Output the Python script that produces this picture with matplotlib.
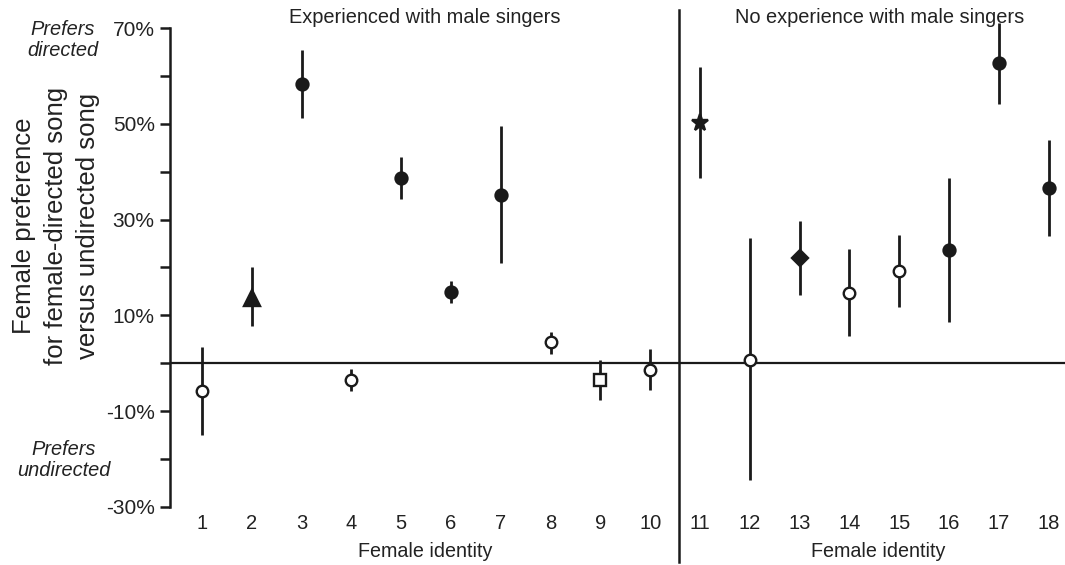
import numpy as np
import matplotlib
matplotlib.use("Agg")
import matplotlib.pyplot as plt

plt.rcParams['font.family'] = ['Liberation Sans', 'DejaVu Sans']

# preference (%) per female, with lower/upper ends of the error bars
females = np.arange(1, 19)
pref = [-5.9, 13.6, 58.4, -3.5, 38.7, 14.8, 35.2, 4.4, -3.5, -1.4,
        50.1, 0.7, 22.0, 14.6, 19.2, 23.7, 62.8, 36.6]
err_low = [-15.1, 7.7, 51.3, -5.9, 34.4, 12.6, 20.9, 1.9, -7.7, -5.6,
           38.6, -24.4, 14.3, 5.6, 11.7, 8.7, 54.2, 26.6]
err_high = [3.3, 20.0, 65.5, -1.3, 43.0, 17.2, 49.5, 6.6, 0.7, 2.9,
            62.0, 26.1, 29.8, 23.8, 26.8, 38.7, 71.2, 46.6]
markers = ['o', '^', 'o', 'o', 'o', 'o', 'o', 'o', 's', 'o',
           '*', 'o', 'D', 'o', 'o', 'o', 'o', 'o']
filled = [False, True, True, False, True, True, True, False, False, False,
          True, False, True, False, False, True, True, True]

group_titles = ["Experienced with male singers", "No experience with male singers"]
y_ticks = np.arange(-30, 71, 10)

ink = '#1a1a1a'
txt = '#222222'

fig = plt.figure(figsize=(10.65, 5.65), dpi=100)
ax = fig.add_axes([0.1596, 0.1032, 0.8404, 0.8468])

ax.axhline(0, color=ink, lw=1.6, zorder=1)
ax.vlines(females, err_low, err_high, color=ink, lw=2.0, zorder=2, clip_on=False)

for x, y, m, f in zip(females, pref, markers, filled):
    if m == 'o':
        ms = 8.6 if f else 8.3
    else:
        ms = {'^': 11, 's': 8, '*': 12.5, 'D': 8.5}[m]
    ax.plot(x, y, marker=m, ms=ms, mfc=ink if f else 'white',
            mec=ink, mew=1.7, zorder=3, clip_on=False)

# divider between the two groups
ax.plot([10.58, 10.58], [-0.1155, 1.0376], color=ink, lw=1.8,
        transform=ax.get_xaxis_transform(), clip_on=False)

ax.set_xlim(0.357, 18.33)
ax.set_ylim(-30, 70)
ax.set_xticks(females)
ax.set_xticklabels([str(i) for i in females])
ax.tick_params(axis='x', length=0, pad=5, labelsize=14.5, labelcolor=txt)
ax.set_yticks(y_ticks)
ax.set_yticklabels([f"{v}%" if (v + 30) % 20 == 0 else "" for v in y_ticks])
ax.tick_params(axis='y', length=7, width=1.8, color=ink, pad=4,
               labelsize=15, labelcolor=txt)

for side in ['top', 'right', 'bottom']:
    ax.spines[side].set_visible(False)
ax.spines['left'].set_linewidth(1.8)
ax.spines['left'].set_color(ink)

xa = ax.get_xaxis_transform()
ax.text(5.48, 1.023, group_titles[0], transform=xa, ha='center', va='center',
        fontsize=14.4, color=txt)
ax.text(14.61, 1.023, group_titles[1], transform=xa, ha='center', va='center',
        fontsize=14.4, color=txt, zorder=1)
for xc in [5.48, 14.57]:
    ax.text(xc, -0.0946, "Female identity", transform=xa, ha='center',
            va='center', fontsize=14.2, color=txt)

fig.text(63 / 1065, 1 - 40 / 565, "Prefers\ndirected", ha='center', va='center',
         fontsize=14.4, style='italic', color=txt, linespacing=1.1)
fig.text(64 / 1065, 1 - 460 / 565, "Prefers\nundirected", ha='center', va='center',
         fontsize=14.4, style='italic', color=txt, linespacing=1.1)
fig.text(56 / 1065, 1 - 226 / 565,
         "Female preference\nfor female-directed song\nversus undirected song",
         rotation=90, ha='center', va='center', fontsize=18.5, color=txt,
         linespacing=1.4)

fig.savefig("out.png", dpi=100)
